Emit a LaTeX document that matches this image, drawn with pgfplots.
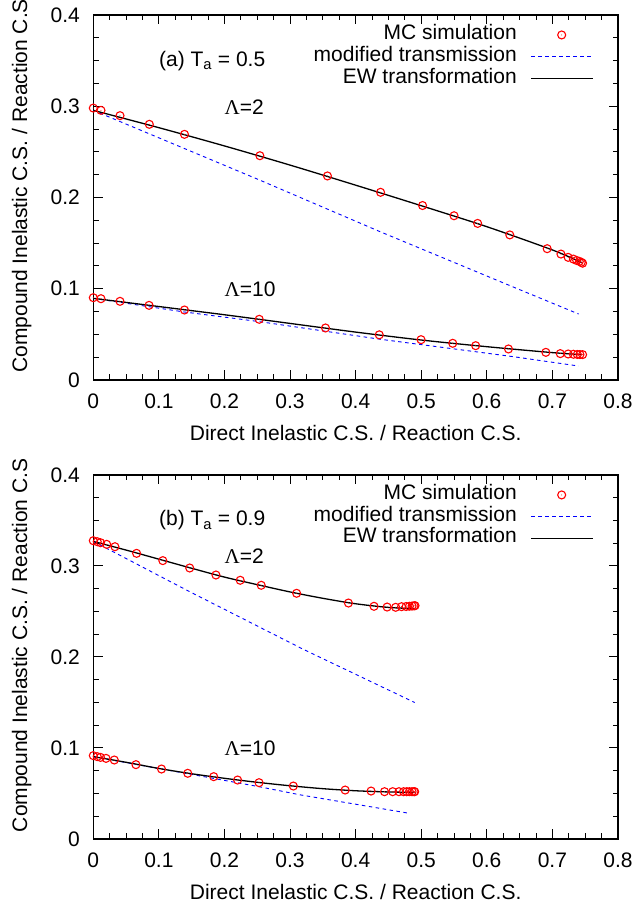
\documentclass[border=0pt]{standalone}
\usepackage{pgfplots}
\pgfplotsset{compat=1.18}
\usepackage{fontspec}
\setmainfont{Liberation Sans}
\newfontfamily\symfont{Liberation Serif}

\pgfdeclareplotmark{odot}{%
  \pgfpathcircle{\pgfpointorigin}{\pgfplotmarksize}\pgfusepathqstroke
  \pgfpathcircle{\pgfpointorigin}{0.5bp}\pgfusepathqfill}

\pgfplotsset{
  myax/.style={
    scale only axis, width=524.7bp,
    xmin=0, xmax=0.8, ymin=0, ymax=0.4,
    xtick={0,0.1,0.2,0.3,0.4,0.5,0.6,0.7,0.8},
    ytick={0,0.1,0.2,0.3,0.4},
    minor x tick num=3, minor y tick num=3,
    tick align=inside, major tick length=9.5bp, minor tick length=5.5bp,
    axis line style={line width=1.5bp},
    every tick/.style={black, line width=1bp},
    /pgf/number format/assume math mode=true,
    /pgf/number format/fixed,
    xticklabel style={anchor=center, inner sep=0pt, yshift=-21.7bp},
    yticklabel style={anchor=east, inner sep=0pt, xshift=-13.3bp},
    every axis x label/.style={at={(axis description cs:0.5,-0.1444)}, anchor=center, inner sep=0pt},
    every axis y label/.style={at={(axis description cs:-0.1365,0.532)}, rotate=90, anchor=center, inner sep=0pt},
    xlabel={Direct Inelastic C.S. / Reaction C.S.},
    ylabel={Compound Inelastic C.S. / Reaction C.S},
    legend plot pos=right,
    legend cell align=right,
    legend style={draw=none, fill=none, at={(rel axis cs:0.953,0.975)}, anchor=north east,
      inner sep=0pt, outer sep=0pt, row sep=0pt, column sep=13.7bp,
      nodes={inner sep=0pt, text height=15.5bp, text depth=6.2bp}},
  },
  mc/.style={only marks, mark=odot, mark size=4bp, draw=red, fill=red, line width=1.1bp,
    legend image code/.code={\coordinate (la) at (0bp,0bp); \coordinate (lb) at (61.6bp,0bp);
      \draw[##1] plot coordinates {(30.6bp,0bp)};}},
  mt/.style={blue, line width=0.9bp, dash pattern=on 3.5bp off 3.5bp, no marks,
    legend image code/.code={\draw[##1] (0bp,0bp) -- (61.6bp,0bp);}},
  ew/.style={black, line width=1.3bp, no marks, smooth,
    legend image code/.code={\draw[##1] (0bp,0bp) -- (61.6bp,0bp);}},
}

\begin{document}
\begin{tikzpicture}[font=\fontsize{21bp}{25bp}\selectfont]
\useasboundingbox (0,0) rectangle (637bp,905bp);

% ---------------- Panel (a) ----------------
\begin{axis}[myax, height=365bp, at={(93.3bp,525bp)}, anchor=south west]
\addplot[mc] coordinates {
 (0,0.298) (0.0117,0.2955) (0.0407,0.2897) (0.0854,0.2802) (0.139,0.2692)
 (0.254,0.2458) (0.357,0.2236) (0.438,0.2057) (0.502,0.1912) (0.55,0.180)
 (0.586,0.1716) (0.635,0.159) (0.692,0.1439) (0.713,0.138) (0.724,0.1344)
 (0.732,0.1325) (0.737,0.131) (0.741,0.130) (0.744,0.129) (0.746,0.128)};
\addlegendentry{MC simulation}
\addplot[mt] coordinates {
 (0,0.2955) (0.254,0.219) (0.437,0.1626) (0.64,0.102) (0.74,0.0723)};
\addlegendentry{modified transmission}
\addplot[ew] coordinates {
 (0,0.2955) (0.1,0.2765) (0.2,0.2565) (0.3,0.2355) (0.4,0.2135) (0.5,0.191)
 (0.6,0.168) (0.7,0.1425) (0.745,0.1285)};
\addlegendentry{EW transformation}
\addplot[mc, forget plot] coordinates {
 (0,0.0902) (0.0117,0.0891) (0.0407,0.0862) (0.085,0.0818) (0.139,0.0767)
 (0.253,0.0665) (0.354,0.057) (0.436,0.0495) (0.4997,0.0442) (0.548,0.0402)
 (0.583,0.0376) (0.633,0.034) (0.69,0.0303) (0.712,0.0289) (0.724,0.0285)
 (0.732,0.0282) (0.738,0.028) (0.742,0.0279) (0.746,0.0278)};
\addplot[mt, forget plot] coordinates {
 (0,0.0895) (0.139,0.0745) (0.253,0.064) (0.437,0.0447) (0.64,0.0256) (0.74,0.0153)};
\addplot[ew, forget plot] coordinates {
 (0,0.0895) (0.1,0.0805) (0.2,0.0715) (0.3,0.062) (0.4,0.0525) (0.5,0.0438)
 (0.6,0.0365) (0.7,0.030) (0.745,0.0278)};
\node[anchor=base west, inner sep=0pt] at (axis cs:0.1,0.344) {(a) T\textsubscript{a} = 0.5};
\node[anchor=base west, inner sep=0pt] at (axis cs:0.2,0.2915) {{\symfont Λ}=2};
\node[anchor=base west, inner sep=0pt] at (axis cs:0.2,0.092) {{\symfont Λ}=10};
\end{axis}

% ---------------- Panel (b) ----------------
\begin{axis}[myax, height=364bp, at={(93.3bp,66bp)}, anchor=south west]
\addplot[mc] coordinates {
 (0,0.3278) (0.006,0.3267) (0.011,0.3256) (0.0204,0.3238) (0.033,0.3212)
 (0.066,0.3139) (0.106,0.3059) (0.147,0.2978) (0.187,0.2901) (0.224,0.2843)
 (0.256,0.2788) (0.31,0.270) (0.389,0.2593) (0.428,0.2557) (0.448,0.2549)
 (0.461,0.2546) (0.47,0.2553) (0.477,0.2555) (0.482,0.2558) (0.486,0.256)
 (0.489,0.2562) (0.4905,0.2564)};
\addlegendentry{MC simulation}
\addplot[mt] coordinates {
 (0,0.327) (0.1477,0.2715) (0.32,0.2085) (0.49,0.150)};
\addlegendentry{modified transmission}
\addplot[ew] coordinates {
 (0,0.327) (0.05,0.3175) (0.1,0.3075) (0.15,0.2975) (0.2,0.2878) (0.25,0.2795)
 (0.3,0.2715) (0.35,0.2645) (0.4,0.2585) (0.45,0.2545) (0.49,0.2532)};
\addlegendentry{EW transformation}
\addplot[mc, forget plot] coordinates {
 (0,0.0916) (0.006,0.0905) (0.011,0.0897) (0.0194,0.0886) (0.032,0.0868)
 (0.065,0.0817) (0.104,0.0769) (0.144,0.0722) (0.1836,0.0685) (0.220,0.0648)
 (0.2527,0.0619) (0.305,0.0582) (0.384,0.0538) (0.4235,0.0527) (0.444,0.052)
 (0.4565,0.052) (0.466,0.052) (0.473,0.052) (0.478,0.052) (0.482,0.052)
 (0.486,0.052) (0.489,0.052) (0.49,0.052)};
\addplot[mt, forget plot] coordinates {
 (0,0.0905) (0.1,0.0775) (0.2527,0.0575) (0.3156,0.0485) (0.437,0.0337) (0.482,0.0282)};
\addplot[ew, forget plot] coordinates {
 (0,0.0905) (0.05,0.0843) (0.1,0.0775) (0.15,0.0717) (0.2,0.0667) (0.25,0.0623)
 (0.3,0.0585) (0.35,0.0553) (0.4,0.053) (0.45,0.0517) (0.49,0.0513)};
\node[anchor=base west, inner sep=0pt] at (axis cs:0.1,0.344) {(b) T\textsubscript{a} = 0.9};
\node[anchor=base west, inner sep=0pt] at (axis cs:0.2,0.3022) {{\symfont Λ}=2};
\node[anchor=base west, inner sep=0pt] at (axis cs:0.2,0.0923) {{\symfont Λ}=10};
\end{axis}
\end{tikzpicture}
\end{document}
